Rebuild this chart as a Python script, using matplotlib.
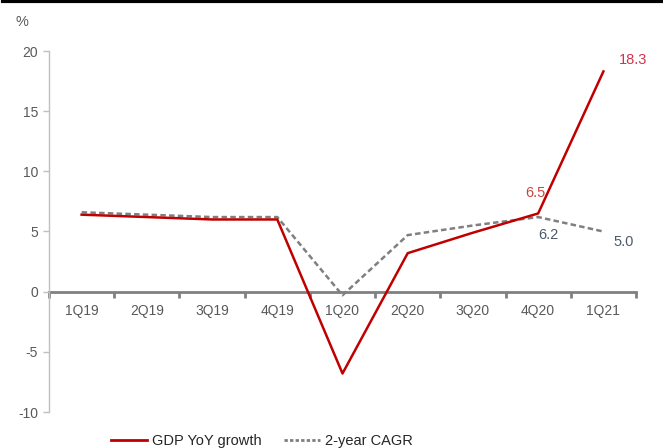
import numpy as np
import matplotlib
matplotlib.use("Agg")
import matplotlib.pyplot as plt
from matplotlib.lines import Line2D

plt.rcParams['font.family'] = ['Liberation Sans', 'DejaVu Sans']

quarters = ['1Q19', '2Q19', '3Q19', '4Q19', '1Q20', '2Q20', '3Q20', '4Q20', '1Q21']
gdp_yoy = [6.4, 6.2, 6.0, 6.0, -6.8, 3.2, 4.9, 6.5, 18.3]
cagr_2y = [6.6, 6.4, 6.2, 6.2, -0.3, 4.7, 5.5, 6.2, 5.0]
y_ticks = [-10, -5, 0, 5, 10, 15, 20]

grey_txt = '#595959'
red = '#c00000'

fig = plt.figure(figsize=(6.63, 4.48), dpi=100)
ax = fig.add_axes([49/663, (448-412)/448, (636-49)/663, (412-51)/448])

x = np.arange(len(quarters))
ax.plot(x, gdp_yoy, color=red, lw=1.8, zorder=3)
ax.plot(x, cagr_2y, color='#7f7f7f', lw=1.8, ls=(0, (2.2, 1.3)), zorder=2)

ax.set_xlim(-0.5, len(quarters) - 0.5)
ax.set_ylim(-10, 20)
ax.set_yticks(y_ticks)
ax.set_yticklabels([str(v) for v in y_ticks])

# x axis sits at zero
ax.spines['top'].set_visible(False)
ax.spines['right'].set_visible(False)
ax.spines['bottom'].set_position(('data', 0))
ax.spines['bottom'].set_color('#808080')
ax.spines['bottom'].set_linewidth(2)
ax.spines['bottom'].set_zorder(1)
ax.spines['left'].set_color('#bfbfbf')
ax.spines['left'].set_linewidth(1)

ax.set_xticks(x)
ax.set_xticklabels(quarters)
ax.set_xticks(np.arange(-0.5, len(quarters)), minor=True)
ax.tick_params(axis='x', which='major', length=0, pad=9, labelsize=10, labelcolor=grey_txt)
ax.tick_params(axis='x', which='minor', length=4, width=2, color='#808080', direction='out')
ax.tick_params(axis='y', length=4, width=1, color='#bfbfbf', labelsize=10, labelcolor=grey_txt, pad=4)

fig.text(22/663, 1 - 22/448, '%', ha='center', va='center', fontsize=10.5, color=grey_txt)

# data labels
ax.annotate(f'{gdp_yoy[8]:.1f}', (8, gdp_yoy[8]), xytext=(30, 11), textcoords='offset pixels',
            ha='center', va='center', color='#d2324b', fontsize=10.5)
ax.annotate(f'{gdp_yoy[7]:.1f}', (7, gdp_yoy[7]), xytext=(-3, 20), textcoords='offset pixels',
            ha='center', va='center', color='#c8463c', fontsize=10.5)
ax.annotate(f'{cagr_2y[7]:.1f}', (7, cagr_2y[7]), xytext=(10, -18), textcoords='offset pixels',
            ha='center', va='center', color='#4d5a6a', fontsize=10.5)
ax.annotate(f'{cagr_2y[8]:.1f}', (8, cagr_2y[8]), xytext=(20, -10), textcoords='offset pixels',
            ha='center', va='center', color='#4d5a6a', fontsize=10.5)

handles = [Line2D([], [], color=red, lw=2),
           Line2D([], [], color='#7f7f7f', lw=2, ls=(0, (1.2, 0.8)))]
fig.legend(handles, ['GDP YoY growth', '2-year CAGR'], loc='center',
           bbox_to_anchor=(262/663, 1 - 441/448), ncol=2, frameon=False,
           fontsize=10.5, handlelength=2.5, handletextpad=0.35, columnspacing=1.5,
           labelcolor='#262626')

# black rule along the top edge
fig.add_artist(Line2D([0.005, 1], [1 - 1.5/448, 1 - 1.5/448], color='black', lw=3,
                      transform=fig.transFigure))

fig.savefig('out.png', dpi=100)
